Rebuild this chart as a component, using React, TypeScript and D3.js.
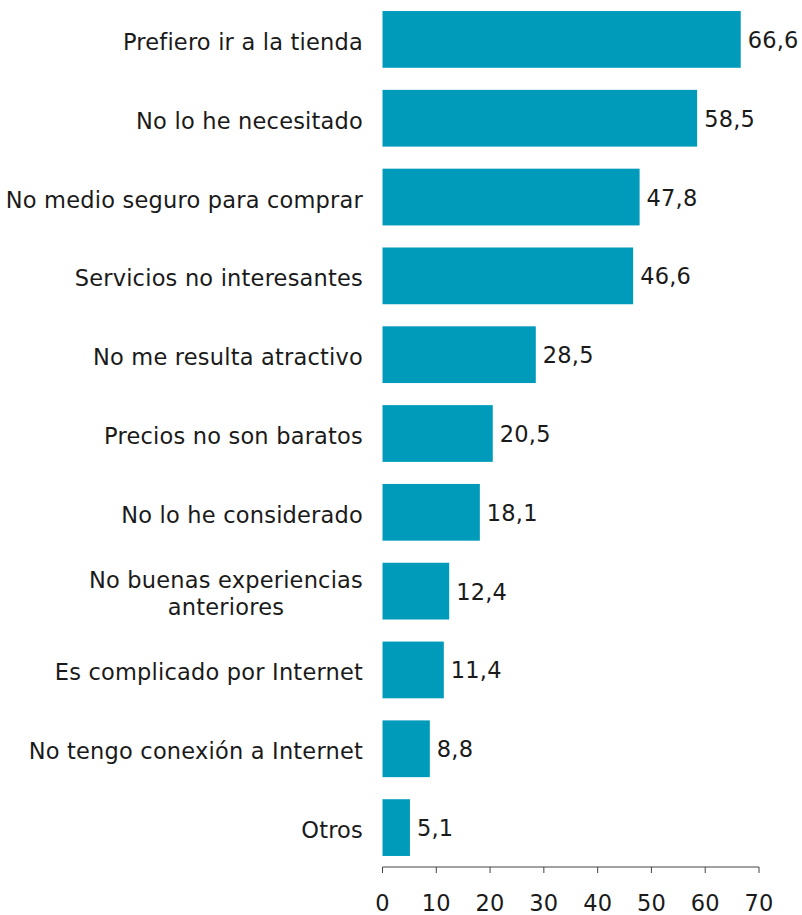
import React from "react";
import * as d3 from "d3";

const categories: string[][] = [
  ["Prefiero ir a la tienda"],
  ["No lo he necesitado"],
  ["No medio seguro para comprar"],
  ["Servicios no interesantes"],
  ["No me resulta atractivo"],
  ["Precios no son baratos"],
  ["No lo he considerado"],
  ["No buenas experiencias", "anteriores"],
  ["Es complicado por Internet"],
  ["No tengo conexión a Internet"],
  ["Otros"],
];
const values: number[] = [66.6, 58.5, 47.8, 46.6, 28.5, 20.5, 18.1, 12.4, 11.4, 8.8, 5.1];
const ticks: number[] = [0, 10, 20, 30, 40, 50, 60, 70];

const W = 802;
const H = 915;
const FONT = "'DejaVu Sans', Verdana, sans-serif";
const FS = 22.5;
const LS = 0.2;
const BAR = "#009BBB";
const TEXT = "#1a1a1a";

export default function App() {
  const x = d3.scaleLinear().domain([0, 70]).range([382.5, 759]);
  const keys = categories.map((_, i) => String(i));
  const y = d3.scaleBand<string>().domain(keys).range([0, 867]).paddingInner(0.28).paddingOuter(0.14);
  const axisY = 867;
  const fmt = (v: number) => v.toFixed(1).replace(".", ",");

  return (
    <svg width={W} height={H} style={{ position: "absolute", left: 0, top: 0, background: "#fff" }} fontFamily={FONT}>
      {values.map((v, i) => {
        const yy = y(keys[i])!;
        const bw = y.bandwidth();
        const cy = yy + bw / 2;
        const lines = categories[i];
        const n = lines.length;
        const lh = 26.4;
        return (
          <g key={i}>
            <rect x={x(0)} y={yy} width={x(v) - x(0)} height={bw} fill={BAR} />
            <text x={x(v) + 7} y={cy + 8.5} fontSize={FS} fill={TEXT} letterSpacing={LS}>
              {fmt(v)}
            </text>
            {n === 1 ? (
              <text x={363} y={cy + 10.5} fontSize={FS} fill={TEXT} textAnchor="end" letterSpacing={LS}>
                {lines[0]}
              </text>
            ) : (
              <text fontSize={FS} fill={TEXT} textAnchor="middle" letterSpacing={LS}>
                {lines.map((l, j) => (
                  <tspan key={j} x={226} y={cy + 10.5 + (j - (n - 1) / 2) * lh}>
                    {l}
                  </tspan>
                ))}
              </text>
            )}
          </g>
        );
      })}
      <line x1={x(0)} x2={x(70)} y1={axisY} y2={axisY} stroke="#444" strokeWidth={1} />
      {ticks.map((t) => (
        <g key={t}>
          <line x1={x(t)} x2={x(t)} y1={axisY} y2={axisY + 6} stroke="#444" strokeWidth={1} />
          <text x={x(t)} y={911} fontSize={FS} fill={TEXT} textAnchor="middle" letterSpacing={LS}>
            {t}
          </text>
        </g>
      ))}
    </svg>
  );
}
